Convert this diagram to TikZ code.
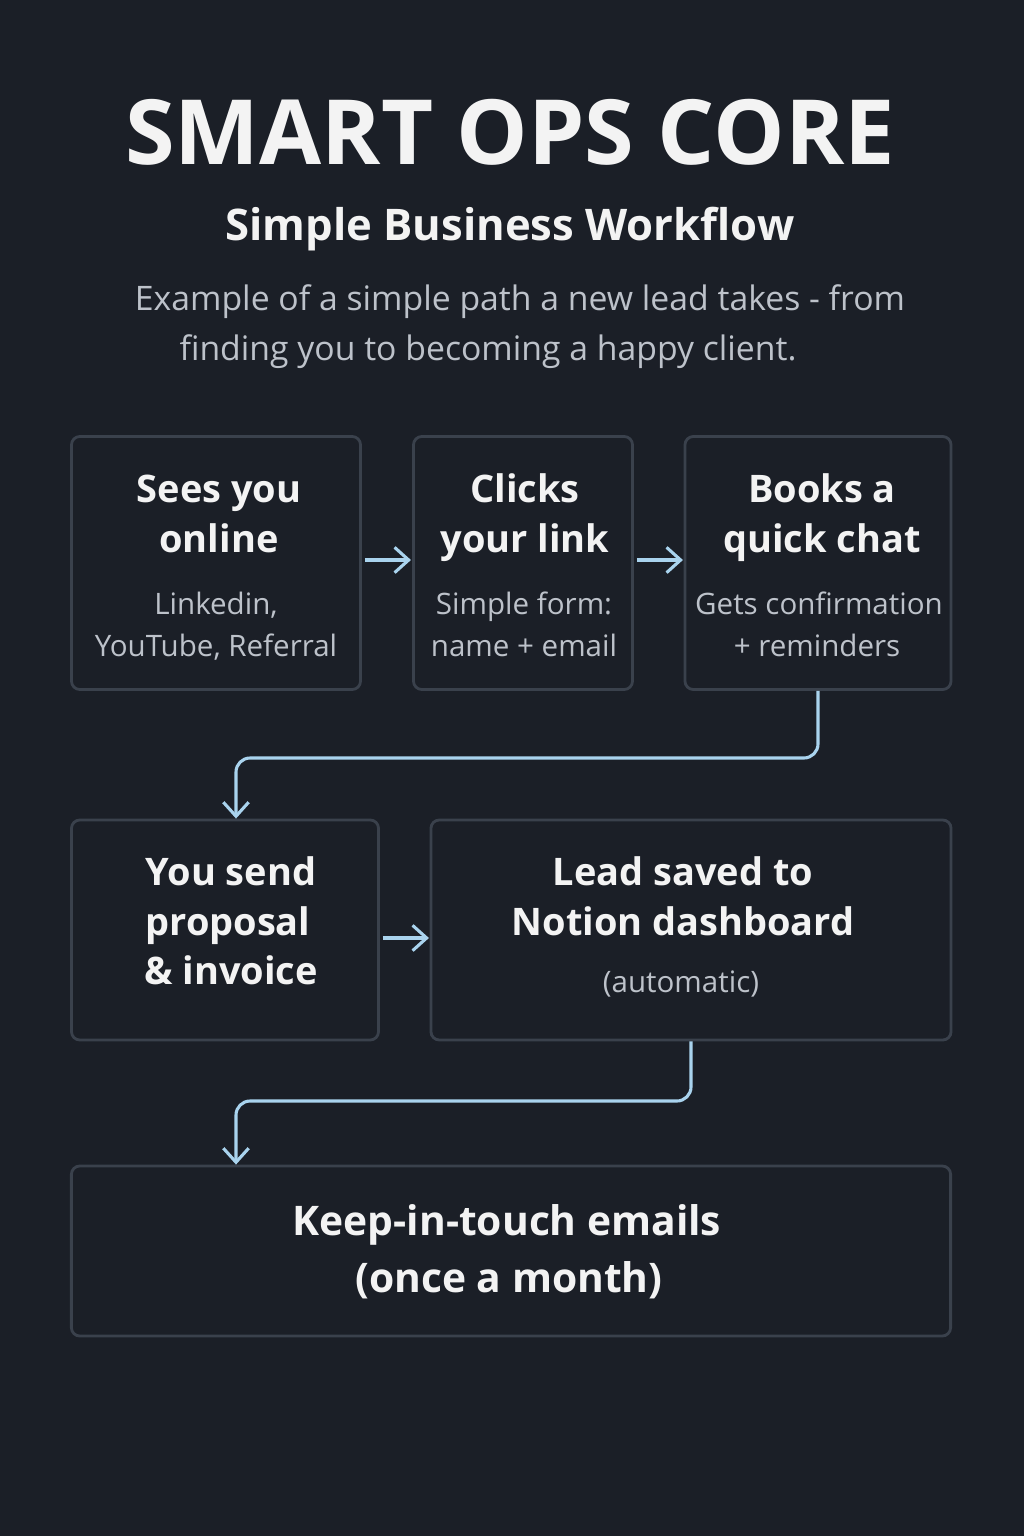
\documentclass[tikz,border=0pt]{standalone}
\usepackage{fontspec}
\setmainfont{Open Sans}
\usetikzlibrary{arrows.meta}
\definecolor{bg}{HTML}{1B1F27}
\definecolor{edge}{HTML}{3A414C}
\definecolor{flowc}{HTML}{A9D3EE}
\definecolor{head}{HTML}{F3F3F3}
\definecolor{soft}{HTML}{BDC2CA}
\newcommand\fs[1]{\fontsize{#1}{#1}\selectfont}
\tikzset{
  stage/.style={draw=edge, line width=2pt, rounded corners=6pt, fill=bg},
  headtxt/.style={text=head, font=\fs{27pt}\bfseries, text height=0.72em, text depth=0.18em, yshift=-6pt},
  subtxt/.style={text=soft, font=\fs{21pt}, text height=0.72em, text depth=0.18em, yshift=-5pt},
  flow/.style={draw=flowc, line width=2.2pt, -{Straight Barb[length=10pt,width=18pt,line width=2.2pt]}}
}
\begin{document}
\begin{tikzpicture}[x=0.025cm,y=-0.025cm]
\fill[bg] (0,0) rectangle (1024,1536);

\node[text=head, font=\fs{64pt}\bfseries] (title) at (510,132) {SMART OPS CORE};
\node[text=head, font=\fs{31pt}\bfseries] (subtitle) at (510,229) {Simple Business Workflow};
\node[text=soft, font=\fs{24pt}] (desc1) at (520,302) {Example of a simple path a new lead takes - from};
\node[text=soft, font=\fs{24pt}] (desc2) at (488,352) {finding you to becoming a happy client.};

% boxes
\node[stage, minimum width=7.225cm, minimum height=6.325cm] (a) at (216,563) {};
\node[stage, minimum width=5.475cm, minimum height=6.325cm] (b) at (523,563) {};
\node[stage, minimum width=6.65cm, minimum height=6.325cm] (c) at (818,563) {};
\node[stage, minimum width=7.675cm, minimum height=5.5cm] (d) at (225,930) {};
\node[stage, minimum width=13cm, minimum height=5.5cm] (e) at (691,930) {};
\node[stage, minimum width=21.975cm, minimum height=4.25cm] (f) at (511,1251) {};

% texts
\node[headtxt] at (219,490) {Sees you};
\node[headtxt] at (219,540) {online};
\node[subtxt] at (216,604) {Linkedin,};
\node[subtxt] at (216,646) {YouTube, Referral};
\node[headtxt] at (525,490) {Clicks};
\node[headtxt] at (525,540) {your link};
\node[subtxt] at (524,604) {Simple form:};
\node[subtxt] at (524,646) {name + email};
\node[headtxt] at (822,490) {Books a};
\node[headtxt] at (822,540) {quick chat};
\node[subtxt] at (819,604) {Gets confirmation};
\node[subtxt] at (817,646) {+ reminders};
\node[headtxt] at (231,873) {You send};
\node[headtxt] at (228,923) {proposal};
\node[headtxt] at (231,972) {\& invoice};
\node[headtxt] at (683,873) {Lead saved to};
\node[headtxt] at (683,923) {Notion dashboard};
\node[subtxt] at (681,982) {(automatic)};
\node[headtxt, font=\fs{29pt}\bfseries] at (507,1223) {Keep-in-touch emails};
\node[headtxt, font=\fs{29pt}\bfseries] at (509,1280) {(once a month)};

% connectors
\coordinate (k1) at (236,758);
\coordinate (k2) at (236,1101);
\draw[flow] (a.east) ++(3,-3) -- ++(46,0);
\draw[flow] (b.east) ++(3,-3) -- ++(46,0);
\draw[flow] (d.east) ++(3,8) -- ++(46,0);
\draw[flow, rounded corners=10pt] (c.south) |- (k1) -- (k1 |- d.north);
\draw[flow, rounded corners=10pt] (e.south) |- (k2) -- (k2 |- f.north);
\end{tikzpicture}
\end{document}
